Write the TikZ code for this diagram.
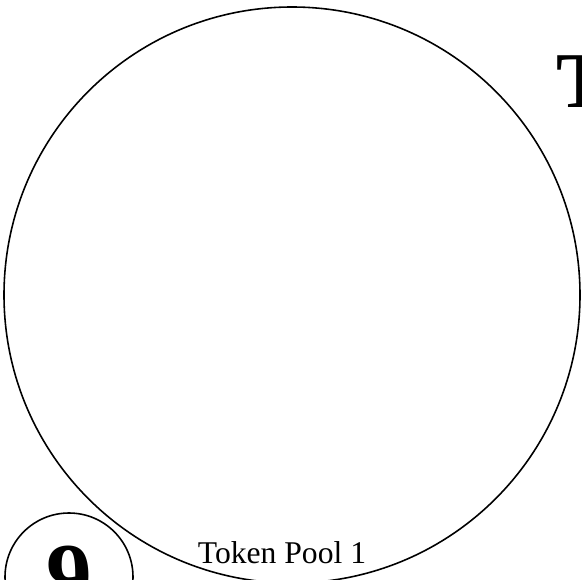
\documentclass[tikz,border=0pt]{standalone}
\usepackage{fontspec}
\setmainfont{Liberation Serif}
\usetikzlibrary{positioning}

\begin{document}
\begin{tikzpicture}[
    pool/.style={draw, circle, line width=0.9pt, minimum size=11.52cm, inner sep=0pt},
    badge/.style={draw, circle, line width=0.9pt, minimum size=2.56cm, inner sep=0pt, font=\fontsize{52}{52}\selectfont\bfseries},
    title/.style={inner sep=0pt, font=\fontsize{45}{45}\selectfont\bfseries},
    poolname/.style={inner sep=0pt, font=\fontsize{18}{18}\selectfont},
]
    \useasboundingbox (0,0) rectangle (11.64,-11.58);
    \node[pool]  (pool)  at (5.84,-5.90)  {};
    \node[badge] (num)   at (1.38,-11.54) {9};
    \node[title, anchor=base west] (head) at (11.12,-2.15) {T};
    \node[poolname, anchor=base] (name) at ([shift={(-0.2,0.40)}]pool.south) {Token Pool 1};
\end{tikzpicture}
\end{document}
